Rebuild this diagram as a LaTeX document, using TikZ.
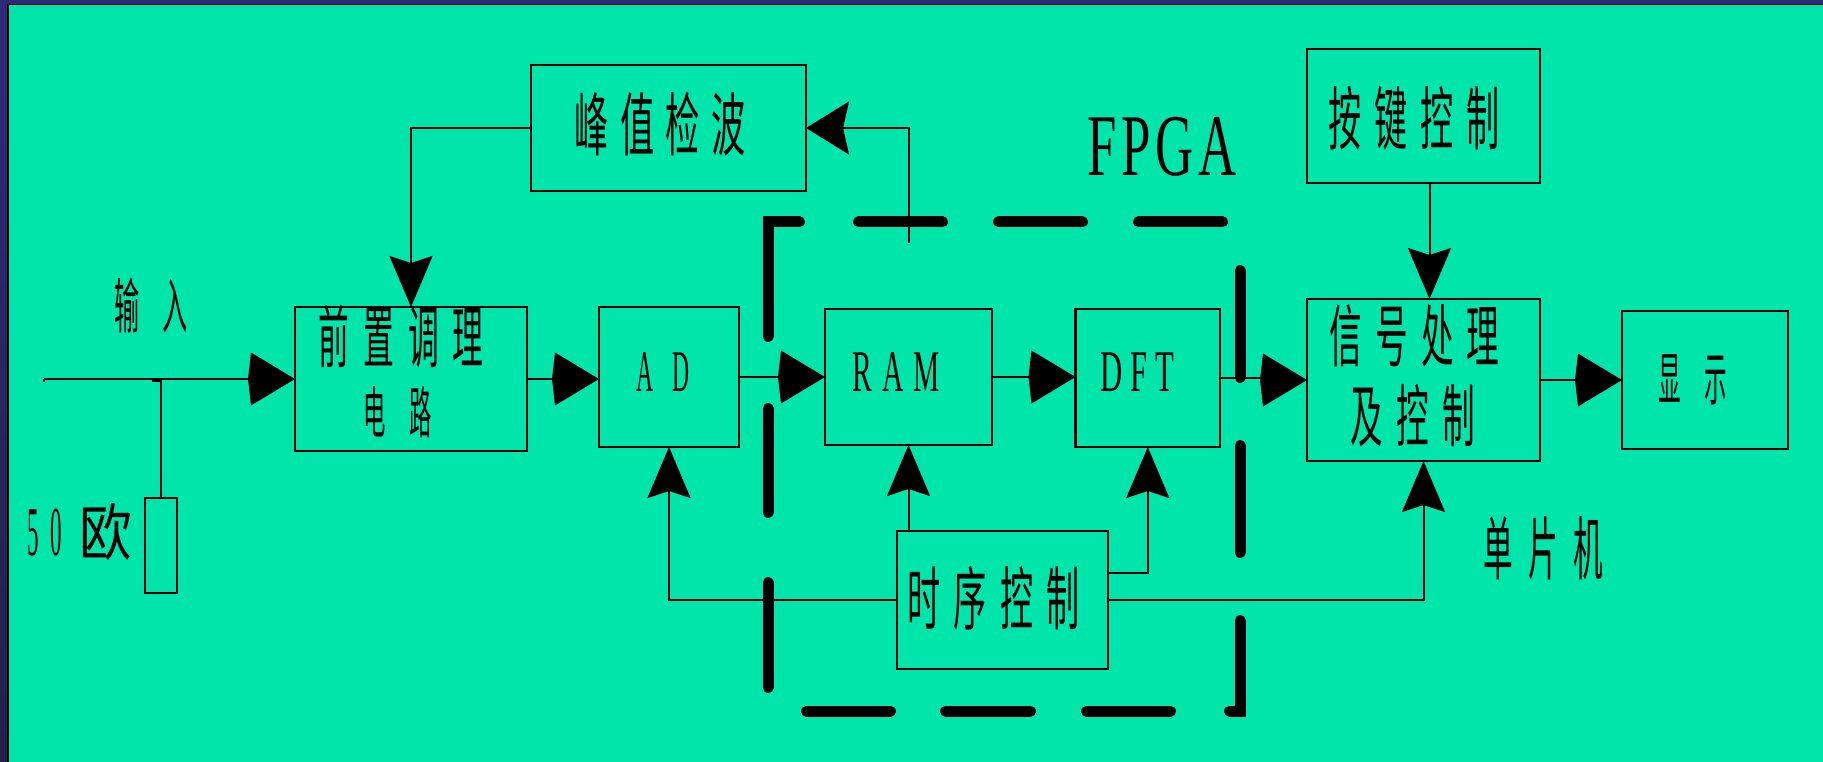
\documentclass[tikz,border=0pt]{standalone}
\usepackage{fontspec}
\usepackage{graphicx}
\setmainfont{Liberation Serif}
\newfontfamily\cjk{Noto Sans CJK SC}
\usetikzlibrary{arrows.meta}
\definecolor{bggreen}{RGB}{0,229,170}
\definecolor{navytop}{RGB}{46,42,122}
\definecolor{navybot}{RGB}{34,32,72}
\makeatletter
\def\zz@end{\zz@end}
\newcommand\zz[3]{{\def\zz@x{#1}\def\zz@g{#2}\zz@a#3\zz@end}}
\def\zz@a#1{\ifx#1\zz@end\else\scalebox{\zz@x}[1]{#1}\expandafter\zz@b\fi}
\def\zz@b#1{\ifx#1\zz@end\else\hspace{\zz@g}\scalebox{\zz@x}[1]{#1}\expandafter\zz@b\fi}
\makeatother
\newcommand\ZH[4]{{\cjk\fontsize{#1}{#1}\selectfont\zz{#2}{#3}{#4}}}
\newcommand\EN[4]{{\rmfamily\fontsize{#1}{#1}\selectfont\zz{#2}{#3}{#4}}}
\begin{document}
\begin{tikzpicture}[x=1pt,y=-1pt,
  box/.style={draw, line width=2.5pt, inner sep=0pt, outer sep=0pt},
  txt/.style={inner sep=0pt, outer sep=0pt, anchor=center},
  conn/.style={line width=2pt},
  ar/.style={-{Kite[length=47pt,width=53pt,inset=3pt]}},
  al/.style={-{Stealth[length=43pt,width=53pt,inset=6pt]}},
  av/.style={-{Stealth[length=51pt,width=43pt,inset=7pt]}},
  fpga/.style={line width=11pt, line cap=round, line join=miter}]
\useasboundingbox (0,0) rectangle (1823,762);
% background
\fill[navytop] (0,0) rectangle (1823,762);
\shade[top color=navytop, bottom color=navybot] (0,0) rectangle (7,762);
\fill[black] (7,4) rectangle (1823,762);
\fill[bggreen] (9,5.5) rectangle (1823,762);

% boxes
\node[box, minimum width=275pt, minimum height=126pt] (peak) at (668.5,128) {};
\node[box, minimum width=232pt, minimum height=144pt] (pre) at (411,379) {};
\node[box, minimum width=140pt, minimum height=140pt] (ad) at (669,377) {};
\node[box, minimum width=167pt, minimum height=136pt] (ram) at (908.5,377) {};
\node[box, minimum width=144.5pt, minimum height=138pt] (dft) at (1147.75,378) {};
\node[box, minimum width=233pt, minimum height=134pt] (key) at (1423.5,116) {};
\node[box, minimum width=233pt, minimum height=162pt] (sig) at (1423.5,380) {};
\node[box, minimum width=166pt, minimum height=138pt] (disp) at (1705,380) {};
\node[box, minimum width=211pt, minimum height=138pt] (tim) at (1002.5,600) {};
\node[box, line width=2pt, minimum width=32pt, minimum height=95pt] (res) at (161,545.5) {};

% texts
\node[txt] (tpeak) at (660,124) {\ZH{69}{0.496}{11.3pt}{峰值检波}};
\node[txt] (tpre1) at (401,336) {\ZH{68}{0.453}{14pt}{前置调理}};
\node[txt] (tpre2) at (398,412) {\ZH{56}{0.40}{23.5pt}{电路}};
\node[txt] (tkey) at (1414,118.5) {\ZH{69}{0.48}{13pt}{按键控制}};
\node[txt] (tsig1) at (1414.5,336) {\ZH{68}{0.48}{13pt}{信号处理}};
\node[txt] (tsig2) at (1412.5,416) {\ZH{68}{0.48}{13.5pt}{及控制}};
\node[txt] (tdisp) at (1693,380) {\ZH{58}{0.39}{23pt}{显示}};
\node[txt] (ttim) at (993.5,598) {\ZH{69}{0.48}{13pt}{时序控制}};
\node[txt] (tmcu) at (1543.5,548) {\ZH{69}{0.43}{15.5pt}{单片机}};
\node[txt] (tin) at (151,306) {\ZH{60}{0.42}{22pt}{输入}};
\node[txt] (t50) at (45,532.5) {\EN{70}{0.33}{11pt}{50}};
\node[txt] (tohm) at (106,532) {\ZH{62}{0.85}{0pt}{欧}};
\node[txt] (tfpga) at (1162,147) {\EN{88}{0.6}{5pt}{FPGA}};
\node[txt] (tram) at (896.5,372.5) {\EN{59}{0.5}{10pt}{RAM}};
\node[txt] (tdft) at (1137,372.5) {\EN{59}{0.52}{8pt}{DFT}};
\node[txt] (tad) at (663,372.5) {\EN{59}{0.4}{18pt}{AD}};

% helper coordinates
\coordinate (in0) at (44,382);
\coordinate (in) at (44,379);
\coordinate (rs0) at (152,381);
\coordinate (rs1) at (161,381);
\coordinate (fp) at (909,243);
\coordinate (kx) at (1429.5,0);
\coordinate (c573) at (0,573);
\coordinate (st1) at (1262,378);
\coordinate (st2) at (1262,380);

% connectors
\draw[conn] (in0) -- (in);
\draw[conn, ar] (in) -- (pre.west);
\draw[conn] (rs0) -- (rs1) -- (res.north);
\draw[conn, av] (peak.west) -| (pre.north);
\draw[conn, al] (fp) |- (peak.east);
\draw[conn, ar] (pre.east) -- (pre.east -| ad.west);
\draw[conn, ar] (ad.east) -- (ram.west);
\draw[conn, ar] (ram.east) -- (ram.east -| dft.west);
\draw[conn, ar] (dft.east) -- (st1) -- (st2) -- (sig.west);
\draw[conn, ar] (sig.east) -- (disp.west);
\draw[conn, av] (key.south -| kx) -- (sig.north -| kx);
\draw[conn, av] (tim.west) -| (ad.south);
\draw[conn, av] (tim.north -| ram.south) -- (ram.south);
\draw[conn, av] (tim.east |- c573) -| (dft.south);
\draw[conn, av] (tim.east) -| (sig.south);

% FPGA dashed boundary
\draw[fpga] (768,336.5) -- (768,222) -- (799.5,222);
\draw[fpga] (858.5,222) -- (942.5,222);
\draw[fpga] (998.5,222) -- (1082.5,222);
\draw[fpga] (1138.5,222) -- (1222.5,222);
\draw[fpga] (768,408.5) -- (768,512.5);
\draw[fpga] (768,582.5) -- (768,687.5);
\draw[fpga] (806.5,711) -- (890.5,711);
\draw[fpga] (945.5,711) -- (1030.5,711);
\draw[fpga] (1086.5,711) -- (1170.5,711);
\draw[fpga] (1229.5,711) -- (1240,711) -- (1240,620.5);
\draw[fpga] (1240,270.5) -- (1240,377.5);
\draw[fpga] (1240,445.5) -- (1240,552.5);
\end{tikzpicture}
\end{document}
